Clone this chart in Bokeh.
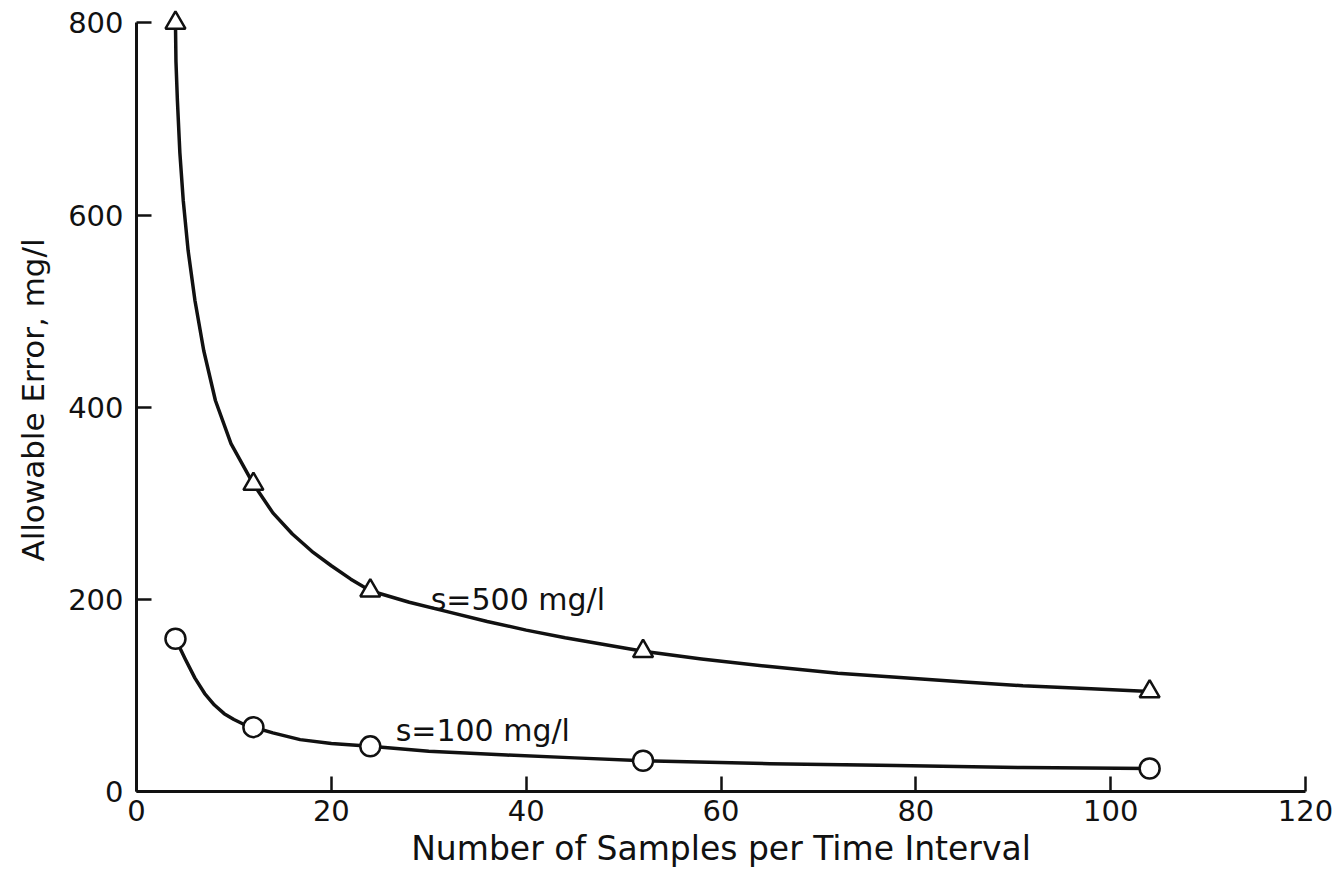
from bokeh.plotting import figure
from bokeh.models import Range1d, FixedTicker, Label
from bokeh.embed import file_html
from bokeh.resources import INLINE

# Data points
samples = [4, 12, 24, 52, 104]
err_500 = [800, 320, 209, 146, 104]
err_100 = [159, 67, 47, 32, 24]

# Points along the hand-drawn smooth curves
curve_x_500 = [4, 4.05, 4.2, 4.45, 4.8, 5.3, 6.0, 6.9, 8.1, 9.7, 12, 14, 16, 18, 20, 22, 24,
               28, 32, 36, 40, 44, 48, 52, 58, 65, 72, 78, 85, 91, 98, 104]
curve_y_500 = [800, 760, 719, 665, 615, 563, 511, 459, 407, 362, 320, 290, 268, 250, 235, 221, 209,
               197, 187, 177, 168, 160, 153, 146, 138, 130, 123, 119, 114, 110, 107, 104]
curve_x_100 = [4, 5, 6, 7, 8, 9, 10, 11, 12, 14, 16.8, 20, 24, 30, 38, 45, 52, 65, 78, 91, 104]
curve_y_100 = [159, 138, 118, 102, 90, 81, 75, 70, 67, 61, 54, 50, 47, 42, 38, 35, 32, 29, 27, 25, 24]

x_ticks = [0, 20, 40, 60, 80, 100, 120]
y_ticks = [0, 200, 400, 600, 800]

FONT = "DejaVu Sans"
INK = "#111111"

p = figure(width=1336, height=880, x_range=Range1d(0, 120), y_range=Range1d(0, 815),
           output_backend="svg", toolbar_location=None,
           min_border_left=136, min_border_right=31, min_border_top=8, min_border_bottom=89)
p.outline_line_color = None
p.xgrid.grid_line_color = None
p.ygrid.grid_line_color = None
p.background_fill_color = "white"

for ax in (p.xaxis[0], p.yaxis[0]):
    ax.axis_line_width = 3
    ax.axis_line_color = INK
    ax.major_tick_in = 15
    ax.major_tick_out = 0
    ax.major_tick_line_width = 2.5
    ax.major_tick_line_color = INK
    ax.minor_tick_line_color = None
    ax.major_label_text_font = FONT
    ax.major_label_text_font_size = "29px"
    ax.major_label_text_color = INK
    ax.axis_label_text_font = FONT
    ax.axis_label_text_font_style = "normal"
    ax.axis_label_text_color = INK

p.yaxis.bounds = (0, 800)
p.xaxis.ticker = FixedTicker(ticks=x_ticks)
p.yaxis.ticker = FixedTicker(ticks=y_ticks)
p.xaxis.axis_label = "Number of Samples per Time Interval"
p.yaxis.axis_label = "Allowable Error, mg/l"
p.xaxis.axis_label_text_font_size = "33px"
p.yaxis.axis_label_text_font_size = "31px"
p.xaxis.major_label_standoff = 8
p.yaxis.major_label_standoff = 13
p.xaxis.axis_label_standoff = 5
p.yaxis.axis_label_standoff = 14

p.line(curve_x_500, curve_y_500, line_color=INK, line_width=3.5, line_join="round")
p.line(curve_x_100, curve_y_100, line_color=INK, line_width=3.5, line_join="round")

p.scatter(samples, err_500, marker="triangle", size=20, fill_color="white",
          line_color=INK, line_width=2.5)
p.scatter(samples, err_100, marker="circle", size=20, fill_color="white",
          line_color=INK, line_width=2.5)

p.add_layout(Label(x=30.2, y=182, text="s=500 mg/l", text_font=FONT,
                   text_font_size="30px", text_color=INK))
p.add_layout(Label(x=26.6, y=45, text="s=100 mg/l", text_font=FONT,
                   text_font_size="30px", text_color=INK))

open("out.html", "w").write(file_html(p, INLINE))
